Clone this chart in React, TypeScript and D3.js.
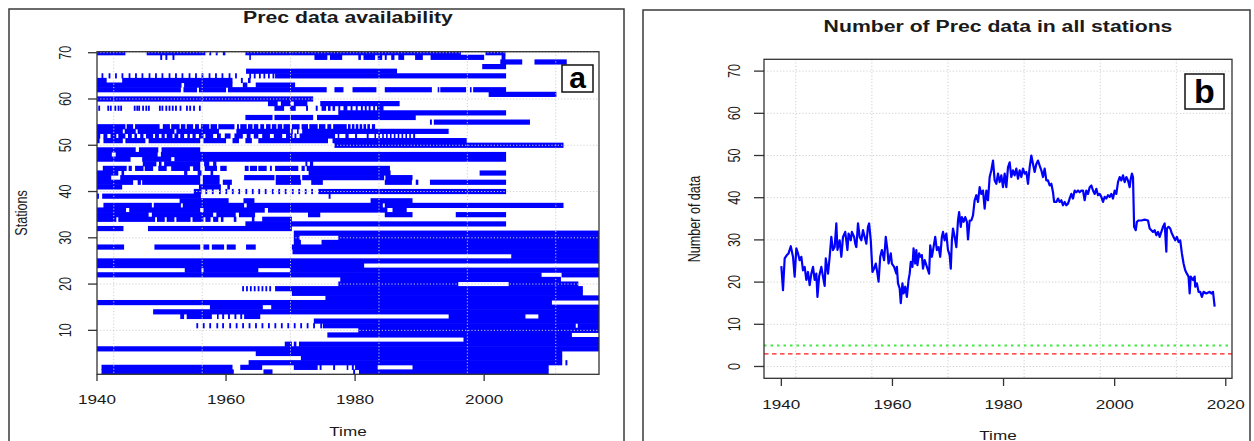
import React from "react";
import * as d3 from "d3";

// ---- panel a: station availability (flat start,end pairs, index 0 = station 1) ----
const availability: number[][] = [
  [1940.7, 1961.2, 1965.8, 1967.2, 1979.7, 1980.0, 1980.6, 2010.0],
  [1940.7, 1961.0, 1962.2, 1965.6, 1970.5, 1974.2, 1974.5, 1974.8, 1976.6, 1976.9, 1978.7, 1978.9, 1979.5, 1979.8, 1980.0, 1983.5, 1988.9, 2010.0],
  [1963.5, 2012.1, 2012.6, 2012.9],
  [1971.6, 2012.1],
  [1964.6, 2012.1],
  [1940.0, 2017.8],
  [1969.1, 1970.2, 1970.5, 1970.9, 1971.3, 2017.8],
  [1996.8, 2017.8],
  [1975.7, 2013.6],
  [1980.5, 2017.8],
  [1975.0, 2014.2, 2014.5, 2017.8],
  [1973.6, 2017.8],
  [1952.9, 1953.5, 1953.9, 1957.8, 1958.6, 1958.8, 1959.4, 1959.7, 1960.3, 1960.6, 1961.3, 1961.6, 1962.2, 1962.5, 1962.8, 1965.3, 1994.5, 2006.4, 2008.4, 2017.8],
  [1948.7, 2017.8],
  [1957.5, 1965.7, 1967.0, 2017.8],
  [1940.0, 2010.5],
  [1975.4, 2017.8],
  [1970.2, 2015.3],
  [1967.6, 2015.3],
  [1977.4, 1996.0, 2003.8, 2014.6],
  [1977.7, 2011.9],
  [1940.0, 2008.9, 2012.0, 2017.8],
  [1953.6, 1956.2, 1956.5, 1965.0, 1969.9, 2017.8],
  [1940.0, 1981.4],
  [1940.0, 2017.8],
  [2004.2, 2017.8],
  [1970.3, 2017.8],
  [1940.0, 1944.2, 1948.9, 1956.0, 1956.5, 1957.4, 1957.8, 1959.7, 1960.1, 1961.5, 1963.1, 1964.6, 1970.2, 2017.8],
  [1970.5, 1971.6, 1974.8, 2017.8],
  [1970.5, 1971.4, 1977.4, 2017.8],
  [1970.5, 2017.8],
  [1940.0, 1944.1, 1947.9, 1970.2],
  [1963.0, 2003.4],
  [1940.0, 1943.0, 1943.3, 1949.0, 1949.3, 1950.5, 1950.8, 1952.0, 1952.3, 1954.5, 1954.8, 1956.5, 1956.8, 1957.6, 1958.0, 1958.8, 1959.2, 1959.6, 1961.2, 1961.6, 1964.0, 1964.4, 1965.6, 1970.2],
  [1940.0, 1948.0, 1948.5, 1958.0, 1958.5, 1961.5, 1962.0, 1964.5, 1972.7, 1974.6, 1984.6, 1988.9, 1995.6, 2003.4],
  [1940.0, 1944.5, 1945.0, 1956.0, 1956.5, 1966.0, 1966.5, 1985.0, 1985.8, 1988.0],
  [1941.0, 1948.5, 1948.8, 1953.0, 1953.3, 1962.8, 1963.2, 1984.3, 1984.6, 2012.3],
  [1952.8, 1960.4, 1962.7, 1964.4, 1982.4, 1988.9],
  [1940.0, 1940.3, 1940.8, 1956.1, 1975.9, 1976.2],
  [1955.0, 1956.2, 1974.3, 2003.4],
  [1940.0, 1943.9, 1955.8, 1959.2, 1960.2, 1960.6],
  [1940.0, 1945.6, 1946.3, 1946.8, 1947.0, 1956.0, 1956.4, 1959.0, 1959.5, 1960.9, 1967.7, 1971.6, 1973.2, 1975.0, 1984.6, 1988.8, 1989.4, 1989.8, 1991.6, 2003.4],
  [1940.0, 1942.2, 1943.6, 1956.0, 1956.4, 1959.0, 1962.8, 1967.5, 1967.7, 1971.5, 1971.8, 1984.5, 1984.7, 1988.9],
  [1940.0, 1943.3, 1943.8, 1944.2, 1953.5, 1954.0, 1955.6, 1956.2, 1957.6, 1958.0, 1972.8, 1985.5, 1999.3, 2003.4],
  [1940.9, 1944.6, 1944.9, 1945.4, 1945.9, 1947.2, 1947.4, 1948.7, 1949.5, 1950.8, 1951.5, 1954.4, 1954.9, 1956.0, 1956.7, 1958.6, 1959.1, 1960.1, 1962.9, 1963.5, 1963.7, 1964.8, 1965.0, 1966.3, 1966.8, 1967.1, 1967.6, 1971.2, 1971.7, 1972.2, 1972.5, 1985.4],
  [1947.1, 1949.2, 1949.6, 1950.0, 1950.4, 1956.0, 1956.6, 1957.4, 1958.0, 1958.5, 1972.3, 1972.6, 1973.0, 1973.5],
  [1940.0, 1945.2, 1947.0, 1951.5, 1952.0, 2003.4],
  [1940.0, 1942.3, 1942.9, 1949.4, 1949.9, 2003.4],
  [1940.0, 1946.0, 1946.5, 1949.5, 1950.0, 1956.0],
  [1976.8, 2012.3],
  [1940.0, 1940.4, 1941.0, 1944.0, 1944.4, 1947.5, 1948.0, 1956.0, 1956.5, 1960.0, 1961.0, 1962.0, 1963.0, 1964.0, 1965.0, 1975.8, 1976.5, 1997.3],
  [1940.0, 1940.5, 1941.0, 1941.6, 1942.1, 1943.0, 1943.3, 1944.4, 1944.8, 1945.4, 1945.8, 1946.2, 1946.7, 1947.2, 1947.6, 1948.7, 1949.0, 1949.6, 1950.0, 1950.5, 1950.8, 1951.7, 1952.0, 1952.6, 1952.9, 1953.5, 1954.0, 1954.4, 1954.8, 1955.3, 1955.8, 1956.5, 1956.8, 1958.0, 1958.6, 1959.2, 1959.8, 1960.7, 1961.3, 1962.6, 1963.2, 1963.8, 1964.3, 1965.0, 1965.6, 1966.8, 1967.4, 1968.7, 1969.3, 1970.3, 1970.6, 1970.9, 1971.4, 1976.9, 1977.3, 1977.5, 1978.5, 1979.0, 1980.0, 1980.3, 1981.8, 1982.1, 1983.0, 1983.2, 1983.6, 1983.8, 1984.2, 1984.4, 1984.8, 1985.0, 1985.4, 1985.6, 1986.0, 1986.2, 1986.6, 1986.8, 1987.2, 1987.4, 1987.8, 1988.0, 1988.4, 1988.6, 1989.0, 1989.3],
  [1940.0, 1944.0, 1944.3, 1946.0, 1946.3, 1952.0, 1952.3, 1958.9, 1961.6, 1969.9, 1970.1, 1970.3, 1971.0, 1971.2, 1971.8, 1994.5],
  [1940.0, 1944.4, 1944.6, 1945.6, 1945.9, 1949.7, 1950.2, 1951.3, 1951.5, 1952.8, 1953.0, 1953.7, 1953.9, 1954.9, 1955.2, 1955.8, 1956.1, 1957.4, 1957.6, 1958.6, 1958.8, 1961.3, 1961.7, 1962.0, 1962.2, 1963.2, 1963.4, 1964.1, 1964.3, 1965.0, 1965.3, 1965.9, 1966.2, 1966.9, 1967.1, 1967.8, 1968.0, 1968.7, 1968.9, 1969.9, 1970.2, 1971.4, 1971.7, 1972.7, 1972.9, 1974.2, 1974.4, 1975.4, 1975.7, 1976.3, 1976.6, 1978.7, 1978.9, 1979.3, 1979.5, 1979.9, 1980.1, 1980.5, 1980.7, 1981.1, 1981.3, 1981.7, 1981.9, 1982.3, 1982.6, 1983.1],
  [1991.6, 1991.9, 1992.2, 2007.1],
  [1963.0, 1967.2, 1967.5, 1969.9, 1970.0, 1973.5, 1974.1, 1989.4],
  [1977.4, 2003.4],
  [1967.5, 1969.0, 1969.9, 1970.8, 1972.4, 1972.7, 1973.9, 1974.2, 1974.8, 1975.5, 1975.8, 1976.2, 1976.5, 1976.9, 1977.4, 1977.7, 1978.2, 1978.8, 1979.3, 1979.6, 1980.1, 1980.4, 1980.9, 1981.2, 1981.5, 1981.8, 1982.1, 1982.4, 1982.8, 1983.1, 1983.4, 1984.4],
  [1966.5, 1968.0, 1968.5, 1970.0, 1970.5, 1972.6, 1974.6, 1986.9],
  [1940.0, 1973.5],
  [2000.7, 2011.2],
  [1940.0, 1953.0, 1953.4, 1955.5, 1955.8, 1960.0, 1960.3, 1975.6, 1976.8, 1978.2, 1979.6, 1983.3, 1984.6, 1991.9, 1992.8, 1993.0, 1993.2, 1997.2, 1997.8, 1998.0, 1998.3, 2003.4],
  [1940.0, 1953.1, 1953.5, 1961.0, 1962.6, 1963.3, 1964.6, 1970.7],
  [1940.0, 1941.5, 1943.9, 1961.0, 1962.3, 1962.6, 1963.4, 1963.8],
  [1967.6, 2003.4],
  [1963.1, 1986.5],
  [1999.7, 2003.4],
  [2002.5, 2005.9, 2007.8, 2012.8],
  [1949.8, 1950.1, 1950.6, 1950.9, 1951.7, 1952.0, 1963.6, 1963.8, 1973.7, 1975.7, 1976.1, 1978.0, 1980.5, 1980.9, 1981.3, 1983.1, 1983.5, 1984.2, 1984.6, 1984.9, 1985.6, 1986.1, 1986.7, 1987.6, 1989.3, 1990.5, 1991.7, 2000.0, 2002.7, 2003.3],
  [1940.0, 1944.4, 1947.7, 1956.8, 1957.4, 1957.7, 1958.4, 1958.7, 1959.5, 1959.9, 1963.0, 1996.4, 2000.2, 2003.3],
];

// single-month records (start year of each short mark), by station
const monthMarks: Record<number, number[]> = {
  11: [1955.4, 1956.4, 1957.4, 1958.5, 1959.4, 1960.5, 1961.5, 1962.5, 1963.5, 1964.5, 1965.5, 1966.5, 1967.5, 1968.5, 1969.5, 1970.5, 1971.5, 1972.5, 1973.5, 1974.6],
  19: [1962.5, 1963.1, 1963.7, 1964.3, 1964.9, 1965.5, 1966.1, 1966.7],
  40: [1956.8, 1957.8, 1958.9, 1959.9, 1960.9, 1961.9, 1963.0, 1964.0, 1965.0, 1966.0, 1967.1, 1968.1, 1969.1, 1970.2, 1971.2, 1972.2, 1973.2],
  58: [1940.2, 1941.6, 1942.0, 1942.7, 1943.2, 1943.6, 1945.7, 1946.1, 1946.4, 1947.0, 1947.5, 1947.9, 1949.6, 1950.0, 1950.6, 1951.1, 1951.6, 1952.1, 1952.8, 1953.8, 1954.3, 1954.9, 1955.8],
  65: [1940.7, 1941.8, 1942.8, 1943.8, 1944.9, 1945.9, 1946.9, 1948.0, 1949.0, 1950.0, 1951.1, 1952.1, 1953.1, 1954.2, 1955.2, 1956.2, 1957.3, 1958.3, 1959.3, 1960.4, 1961.4, 1963.6, 1964.3, 1965.1, 1965.8, 1966.5, 1967.2],
};

// ---- panel b: number of stations with data ----
const stationCount: [number, number][] = [
  [1940.0, 23.8], [1940.3, 18.1], [1940.6, 25.6], [1941.0, 26.4], [1941.3, 26.8], [1941.7, 28.5], [1942.1, 26.0], [1942.4, 21.3],
  [1942.7, 28.0], [1943.0, 26.8], [1943.3, 25.2], [1943.6, 26.0], [1943.9, 22.8], [1944.2, 23.6], [1944.5, 20.5], [1944.8, 22.4],
  [1945.1, 19.3], [1945.4, 22.0], [1945.7, 23.6], [1946.0, 20.5], [1946.3, 22.0], [1946.5, 16.5], [1946.8, 21.3], [1947.2, 23.6],
  [1947.5, 21.3], [1947.8, 19.1], [1948.0, 25.6], [1948.4, 22.0], [1948.7, 26.0], [1949.0, 30.7], [1949.3, 27.6], [1949.6, 28.3],
  [1949.9, 33.9], [1950.1, 27.6], [1950.5, 29.9], [1950.8, 26.0], [1951.1, 30.7], [1951.5, 31.9], [1951.9, 27.6], [1952.1, 31.5],
  [1952.5, 29.9], [1952.7, 31.9], [1953.1, 30.7], [1953.3, 29.1], [1953.5, 28.3], [1953.8, 33.9], [1954.1, 30.7], [1954.4, 29.9],
  [1954.7, 32.3], [1955.0, 30.7], [1955.3, 29.1], [1955.6, 33.1], [1955.8, 33.9], [1956.1, 29.9], [1956.4, 22.4], [1956.7, 23.2],
  [1957.0, 24.4], [1957.3, 22.0], [1957.5, 20.1], [1957.8, 26.0], [1958.1, 27.6], [1958.5, 25.2], [1958.8, 30.7], [1959.1, 27.6],
  [1959.3, 24.4], [1959.7, 26.8], [1959.9, 24.4], [1960.3, 23.6], [1960.7, 22.0], [1960.8, 23.6], [1961.0, 19.7], [1961.3, 18.5],
  [1961.5, 15.0], [1961.8, 19.7], [1962.0, 17.3], [1962.3, 18.9], [1962.6, 16.5], [1962.9, 20.5], [1963.1, 22.0], [1963.3, 24.8],
  [1963.6, 23.6], [1963.8, 28.0], [1964.1, 24.4], [1964.3, 27.6], [1964.5, 24.0], [1964.8, 26.8], [1965.0, 26.0], [1965.3, 26.4],
  [1965.5, 23.2], [1965.8, 25.2], [1966.1, 24.0], [1966.4, 22.8], [1966.6, 22.0], [1966.8, 28.7], [1967.1, 26.0], [1967.4, 28.3],
  [1967.7, 30.7], [1968.0, 27.6], [1968.3, 28.3], [1968.6, 26.0], [1968.9, 30.7], [1969.1, 31.9], [1969.4, 29.9], [1969.7, 31.5],
  [1970.0, 27.6], [1970.3, 26.4], [1970.5, 23.2], [1970.7, 29.9], [1970.9, 32.7], [1971.2, 30.7], [1971.5, 28.3], [1971.8, 34.6],
  [1972.0, 36.6], [1972.3, 33.1], [1972.5, 35.4], [1972.8, 34.3], [1973.1, 35.4], [1973.4, 34.3], [1973.6, 30.1], [1973.9, 34.6],
  [1974.2, 34.6], [1974.5, 35.8], [1974.8, 39.4], [1975.1, 40.6], [1975.4, 39.0], [1975.7, 42.5], [1976.0, 40.9], [1976.3, 41.7],
  [1976.6, 37.4], [1976.9, 41.7], [1977.2, 39.4], [1977.5, 44.9], [1977.8, 46.5], [1978.1, 48.8], [1978.4, 44.1], [1978.7, 43.3],
  [1979.0, 45.7], [1979.3, 43.7], [1979.6, 45.3], [1979.9, 42.5], [1980.2, 45.7], [1980.5, 42.5], [1980.8, 47.2], [1981.1, 48.4],
  [1981.4, 44.9], [1981.7, 46.5], [1982.0, 45.3], [1982.3, 46.9], [1982.6, 44.5], [1982.9, 46.5], [1983.2, 44.9], [1983.5, 46.9],
  [1983.8, 45.7], [1984.1, 46.1], [1984.4, 43.3], [1984.7, 47.2], [1985.0, 50.0], [1985.3, 48.0], [1985.6, 46.1], [1985.9, 48.0],
  [1986.2, 48.8], [1986.5, 47.6], [1986.8, 46.5], [1987.1, 44.9], [1987.4, 46.9], [1987.7, 44.1], [1988.0, 44.1], [1988.3, 42.9],
  [1988.6, 43.3], [1988.9, 41.3], [1989.1, 39.0], [1989.5, 39.0], [1989.8, 39.8], [1990.1, 39.0], [1990.4, 39.4], [1990.7, 38.2],
  [1991.0, 39.0], [1991.3, 38.2], [1991.6, 38.6], [1991.9, 39.8], [1992.2, 40.9], [1992.5, 39.8], [1992.8, 41.7], [1993.1, 41.3],
  [1993.4, 41.7], [1993.7, 41.3], [1994.0, 41.7], [1994.3, 41.7], [1994.6, 39.4], [1994.9, 41.7], [1995.2, 40.9], [1995.5, 42.5],
  [1995.8, 42.9], [1996.1, 41.7], [1996.4, 40.9], [1996.7, 42.1], [1997.0, 40.6], [1997.3, 40.9], [1997.6, 40.2], [1997.9, 39.0],
  [1998.2, 40.2], [1998.5, 39.8], [1998.8, 40.6], [1999.1, 40.2], [1999.4, 40.9], [1999.7, 39.8], [2000.0, 41.7], [2000.3, 40.9],
  [2000.6, 43.7], [2000.9, 44.9], [2001.2, 44.1], [2001.5, 45.3], [2001.8, 43.7], [2002.1, 44.9], [2002.4, 44.1], [2002.7, 42.5],
  [2002.9, 44.5], [2003.1, 45.7], [2003.3, 44.9], [2003.5, 33.1], [2003.8, 32.3], [2004.0, 34.3], [2004.3, 34.6], [2004.8, 34.6],
  [2005.4, 34.8], [2006.0, 34.6], [2006.3, 32.7], [2006.6, 32.3], [2006.9, 31.9], [2007.2, 32.3], [2007.5, 31.1], [2007.8, 31.9],
  [2008.1, 30.7], [2008.4, 31.9], [2008.7, 33.1], [2009.0, 33.9], [2009.3, 27.2], [2009.4, 32.7], [2009.7, 33.1], [2010.0, 32.7],
  [2010.3, 31.5], [2010.6, 30.7], [2010.9, 29.9], [2011.2, 30.7], [2011.5, 29.5], [2011.8, 29.9], [2012.1, 26.8], [2012.4, 24.4],
  [2012.7, 22.8], [2013.0, 22.0], [2013.3, 21.3], [2013.5, 17.3], [2013.7, 21.3], [2014.1, 20.5], [2014.4, 21.3], [2014.5, 18.9],
  [2014.8, 19.7], [2015.1, 17.7], [2015.4, 17.7], [2015.7, 16.5], [2016.0, 17.7], [2016.5, 17.3], [2017.1, 17.7], [2017.4, 17.3],
  [2017.7, 17.7], [2018.0, 14.2],
];

const thresholds = [
  { value: 5, color: "#44e844", dash: "2.5 4", width: 2 },
  { value: 3, color: "#ff1a1a", dash: "4.5 3.5", width: 1.4 },
];

const gridYears = [1942.6, 1956.3, 1970.0, 1983.7, 1997.4, 2011.1];
const yearTicksA = [1940, 1960, 1980, 2000];
const yearTicksB = [1940, 1960, 1980, 2000, 2020];
const stationTicks = [10, 20, 30, 40, 50, 60, 70];
const countTicks = [0, 10, 20, 30, 40, 50, 60, 70];

const FONT = "'Liberation Sans', Arial, Helvetica, sans-serif";
const SX = 1.36; // the figure is stretched sideways
const BLUE = "#0000ff";
const GRID = "#cfcfcf";

function T({ x, y, children, size = 12.6, bold = false, rotate = false }: any) {
  return (
    <text
      transform={`translate(${x},${y}) scale(${SX},1)${rotate ? " rotate(-90)" : ""}`}
      textAnchor="middle"
      dominantBaseline="central"
      fontFamily={FONT}
      fontSize={size}
      fontWeight={bold ? "bold" : "normal"}
      fill="#1a1a1a"
    >
      {children}
    </text>
  );
}

function PanelA() {
  const x = d3.scaleLinear().domain([1940, 2017.8]).range([97, 599]);
  const y = d3.scaleLinear().domain([0.5, 70.22]).range([374.3, 51.7]);
  const rowH = 5.2;
  const bars: JSX.Element[] = [];
  availability.forEach((spans, i) => {
    const st = i + 1;
    for (let k = 0; k < spans.length; k += 2) {
      bars.push(
        <rect key={`b${st}-${k}`} x={x(spans[k])} y={y(st) - rowH / 2}
          width={Math.max(1.6, x(spans[k + 1]) - x(spans[k]))} height={rowH} fill={BLUE} />
      );
    }
  });
  Object.entries(monthMarks).forEach(([st, list]) => {
    list.forEach((m, k) => {
      bars.push(
        <rect key={`m${st}-${k}`} x={x(m)} y={y(+st) - rowH / 2} width={1.8} height={rowH} fill={BLUE} />
      );
    });
  });
  return (
    <g>
      <rect x={9} y={9} width={615} height={440} fill="none" stroke="#3a3a3a" strokeWidth={1.5} />
      <clipPath id="clipA"><rect x={97} y={51.7} width={502} height={322.6} /></clipPath>
      <g clipPath="url(#clipA)">
        {bars}
        {gridYears.map((g) => (
          <line key={g} x1={x(g)} x2={x(g)} y1={51.7} y2={374.3} stroke={GRID} strokeDasharray="1.2 2" />
        ))}
        {stationTicks.map((t) => (
          <line key={t} x1={97} x2={599} y1={y(t)} y2={y(t)} stroke={GRID} strokeDasharray="1.2 2" />
        ))}
      </g>
      <rect x={97} y={51.7} width={502} height={322.6} fill="none" stroke="#333" strokeWidth={1.3} />
      {yearTicksA.map((t) => (
        <g key={t}>
          <line x1={x(t)} x2={x(t)} y1={374.3} y2={381} stroke="#333" strokeWidth={1.3} />
          <T x={x(t)} y={399}>{t}</T>
        </g>
      ))}
      {stationTicks.map((t) => (
        <g key={t}>
          <line x1={88} x2={97} y1={y(t)} y2={y(t)} stroke="#333" strokeWidth={1.3} />
          <T x={65} y={y(t)} rotate>{t}</T>
        </g>
      ))}
      <T x={348} y={18} size={15.6} bold>Prec data availability</T>
      <T x={348} y={431}>Time</T>
      <T x={21} y={213} rotate>Stations</T>
      <rect x={562} y={65} width={31} height={27} fill="#fff" stroke="#111" strokeWidth={1.5} />
      <text x={577.5} y={88} textAnchor="middle" fontFamily="'Liberation Sans Narrow', 'Liberation Sans', Arial, sans-serif"
        fontWeight="bold" fontSize={30} fill="#000">a</text>
    </g>
  );
}

function PanelB() {
  const x = d3.scaleLinear().domain([1936.88, 2021.12]).range([764, 1232]);
  const y = d3.scaleLinear().domain([-2.8, 72.8]).range([378.3, 59.3]);
  const line = d3.line<[number, number]>().x((d) => x(d[0])).y((d) => y(d[1]));
  return (
    <g>
      <rect x={643} y={10} width={607} height={440} fill="none" stroke="#3a3a3a" strokeWidth={1.5} />
      {gridYears.map((g) => (
        <line key={g} x1={x(g)} x2={x(g)} y1={59.3} y2={378.3} stroke={GRID} strokeDasharray="1.2 2" />
      ))}
      {countTicks.map((t) => (
        <line key={t} x1={764} x2={1232} y1={y(t)} y2={y(t)} stroke={GRID} strokeDasharray="1.2 2" />
      ))}
      {thresholds.map((h) => (
        <line key={h.value} x1={764} x2={1232} y1={y(h.value)} y2={y(h.value)} stroke={h.color}
          strokeWidth={h.width} strokeDasharray={h.dash} />
      ))}
      <path d={line(stationCount) ?? ""} fill="none" stroke={BLUE} strokeWidth={2.2} strokeLinejoin="round" />
      <rect x={764} y={59.3} width={468} height={319} fill="none" stroke="#333" strokeWidth={1.3} />
      {yearTicksB.map((t) => (
        <g key={t}>
          <line x1={x(t)} x2={x(t)} y1={378.3} y2={386} stroke="#333" strokeWidth={1.3} />
          <T x={x(t)} y={404}>{t}</T>
        </g>
      ))}
      {countTicks.map((t) => (
        <g key={t}>
          <line x1={754} x2={764} y1={y(t)} y2={y(t)} stroke="#333" strokeWidth={1.3} />
          <T x={734} y={y(t)} rotate>{t}</T>
        </g>
      ))}
      <T x={998} y={27} size={15.6} bold>Number of Prec data in all stations</T>
      <T x={998} y={435}>Time</T>
      <T x={694} y={219} rotate>Number of data</T>
      <rect x={1185} y={74} width={39} height={35} fill="#fff" stroke="#111" strokeWidth={1.5} />
      <text x={1204.5} y={103} textAnchor="middle" fontFamily="'Liberation Sans Narrow', 'Liberation Sans', Arial, sans-serif"
        fontWeight="bold" fontSize={34} fill="#000">b</text>
    </g>
  );
}

export default function App() {
  return (
    <svg width={1254} height={441} style={{ position: "absolute", left: 0, top: 0, background: "#fff" }}>
      <rect width={1254} height={441} fill="#fff" />
      <PanelA />
      <PanelB />
    </svg>
  );
}
